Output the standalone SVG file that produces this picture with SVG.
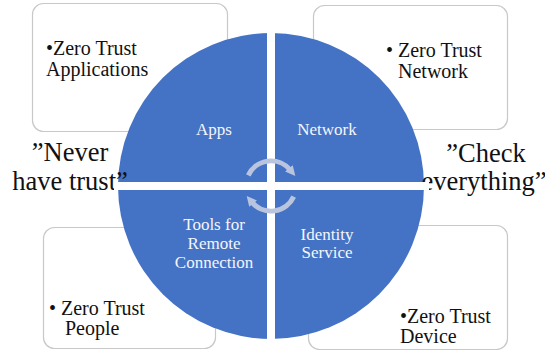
<svg xmlns="http://www.w3.org/2000/svg" width="545" height="350" viewBox="0 0 545 350">
  <style>
    text { font-family: "Liberation Serif", "DejaVu Serif", serif; }
    .box { fill: #ffffff; stroke: #c8c8c8; stroke-width: 1.2; }
    .item { font-size: 20px; fill: #111111; }
    .quote { font-size: 26.5px; fill: #111111; text-anchor: middle; }
    .seg { font-size: 17px; fill: #f4f6fb; text-anchor: middle; }
    .cycle { fill: none; stroke: #b9c4de; stroke-width: 5; }
  </style>
  <defs>
    <marker id="head" viewBox="0 0 10 10" refX="2" refY="5" markerWidth="10" markerHeight="10" markerUnits="userSpaceOnUse" orient="auto">
      <path d="M0,0 L10,5 L0,10 Z" fill="#b9c4de"/>
    </marker>
  </defs>
  <rect width="545" height="350" fill="#ffffff"/>

  <!-- outer boxes -->
  <g id="box-applications">
    <rect class="box" x="32.5" y="3.5" width="195" height="128" rx="11"/>
    <text class="item" x="46" y="55">•Zero Trust</text>
    <text class="item" x="46" y="76">Applications</text>
  </g>
  <g id="box-network">
    <rect class="box" x="313.5" y="5.5" width="194" height="124" rx="11"/>
    <text class="item" x="386" y="57">• Zero Trust</text>
    <text class="item" x="398" y="78">Network</text>
  </g>
  <g id="box-people">
    <rect class="box" x="43.5" y="227.5" width="172" height="121" rx="11"/>
    <text class="item" x="49" y="315">• Zero Trust</text>
    <text class="item" x="65" y="335">People</text>
  </g>
  <g id="box-device">
    <rect class="box" x="308.5" y="225.5" width="199" height="124" rx="11"/>
    <text class="item" x="400" y="323">•Zero Trust</text>
    <text class="item" x="400" y="343">Device</text>
  </g>

  <!-- quadrant wheel -->
  <g id="wheel">
    <circle cx="271" cy="186" r="153" fill="#4472c4"/>
  </g>

  <!-- side slogans -->
  <g id="slogan-left">
    <text class="quote" x="70" y="161">”Never</text>
    <text class="quote" x="70" y="190">have trust”</text>
  </g>
  <g id="slogan-right">
    <text class="quote" x="486" y="162">”Check</text>
    <text class="quote" x="484" y="190">everything”</text>
  </g>

  <!-- dividers between quadrants -->
  <g id="dividers" stroke="#ffffff" stroke-width="8">
    <line x1="271" y1="28" x2="271" y2="344"/>
    <line x1="114" y1="186" x2="429" y2="186"/>
  </g>

  <g id="seg-apps"><text class="seg" x="214" y="135">Apps</text></g>
  <g id="seg-network"><text class="seg" x="327" y="135">Network</text></g>
  <g id="seg-tools">
    <text class="seg" x="214" y="230">Tools for</text>
    <text class="seg" x="214" y="249">Remote</text>
    <text class="seg" x="214" y="268">Connection</text>
  </g>
  <g id="seg-identity">
    <text class="seg" x="327" y="240">Identity</text>
    <text class="seg" x="327" y="258">Service</text>
  </g>

  <!-- circular arrows in the hub -->
  <g id="connectors">
    <path class="cycle" d="M248.3,175.4 A25,25 0 0 1 290.2,169.9" marker-end="url(#head)"/>
    <path class="cycle" d="M293.7,196.6 A25,25 0 0 1 251.8,202.1" marker-end="url(#head)"/>
  </g>
</svg>
